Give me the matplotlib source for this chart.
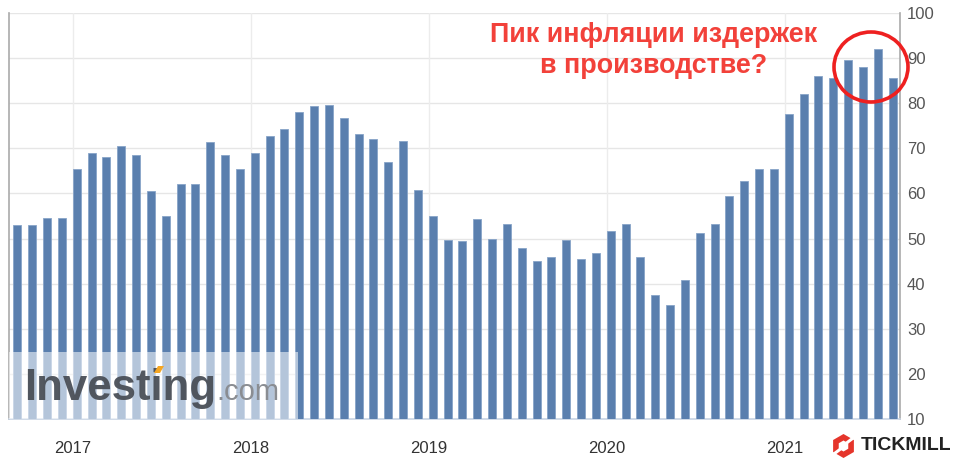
import matplotlib
matplotlib.use("Agg")
import matplotlib.pyplot as plt
from matplotlib.patches import Ellipse, Rectangle, Polygon
from matplotlib.lines import Line2D
import numpy as np

# Data: ISM-style prices index, monthly (by release month, Sep 2016 .. Aug 2021)
values = [53.0, 53.0, 54.5, 54.5, 65.5, 69.0, 68.0, 70.5, 68.5, 60.5, 55.0, 62.0,
          62.0, 71.5, 68.5, 65.5, 69.0, 72.7, 74.2, 78.1, 79.3, 79.5, 76.8, 73.2,
          72.1, 66.9, 71.6, 60.7, 54.9, 49.6, 49.4, 54.3, 50.0, 53.2, 47.9, 45.1,
          46.0, 49.7, 45.5, 46.7, 51.7, 53.3, 45.9, 37.4, 35.3, 40.8, 51.3, 53.2,
          59.5, 62.8, 65.5, 65.4, 77.6, 82.1, 86.0, 85.6, 89.6, 88.0, 92.1, 85.7]
year_labels = ["2017", "2018", "2019", "2020", "2021"]
year_index = [4, 16, 28, 40, 52]   # bar index of first release in each year
y_ticks = [10, 20, 30, 40, 50, 60, 70, 80, 90, 100]

W, H = 963, 462
fig = plt.figure(figsize=(W / 100, H / 100), dpi=100)
ax = fig.add_axes([9 / W, 1 - 419 / H, (900 - 9) / W, (419 - 13) / H])


def P(px, py):
    return (px / W, 1 - py / H)


x = np.arange(len(values))
ax.bar(x, [v - 10 for v in values], bottom=10, width=0.54,
       color="#5a7fae", edgecolor="#88a4c8", linewidth=0.6, zorder=3)

ax.set_xlim(-0.57, 59.5)
ax.set_ylim(10, 100)

# grid
for yt in y_ticks:
    ax.axhline(yt, color="#e6e6e6", lw=1.0, zorder=1)
xg = [i - 0.25 for i in year_index]
for xv in xg:
    ax.axvline(xv, color="#ececec", lw=1.0, zorder=1)

ax.yaxis.tick_right()
ax.set_yticks(y_ticks)
ax.set_yticklabels([str(t) for t in y_ticks], fontsize=12, color="#555555",
                   family="Liberation Sans")
ax.tick_params(axis="y", length=0, pad=5)
ax.set_xticks(xg)
ax.set_xticklabels(year_labels, fontsize=12, color="#333333", family="Liberation Sans")
ax.tick_params(axis="x", length=0, pad=16)

ax.spines["top"].set_visible(False)
ax.spines["left"].set_color("#aaaaaa")
ax.spines["right"].set_color("#aaaaaa")
ax.spines["bottom"].set_color("#c8d4e4")
for s in ["left", "right", "bottom"]:
    ax.spines[s].set_linewidth(1.2)

# Annotation
fig.text(654 / W, 1 - 35 / H, "Пик инфляции издержек", ha="center", va="center",
         fontsize=19.4, fontweight="bold", color="#f2413a", family="Liberation Sans")
fig.text(654 / W, 1 - 66 / H, "в производстве?", ha="center", va="center",
         fontsize=19.4, fontweight="bold", color="#f2413a", family="Liberation Sans")
fig.patches.append(Ellipse(P(871, 67), 74 / W, 70 / H, fill=False,
                           edgecolor="#ee2020", lw=2.6, transform=fig.transFigure,
                           zorder=10))

# Investing.com watermark
fig.patches.append(Rectangle(P(9, 419), (298 - 9) / W, (419 - 352) / H,
                             facecolor="white", alpha=0.55, edgecolor="none",
                             transform=fig.transFigure, zorder=10))
fig.text(24 / W, 1 - 400 / H, "Investing", ha="left", va="baseline", fontsize=31.5,
         fontweight="bold", color="#4a4f57", family="Liberation Sans", zorder=11,
         alpha=0.95)
fig.text(216 / W, 1 - 400 / H, ".com", ha="left", va="baseline", fontsize=21,
         color="#8a8d92", family="Liberation Sans", zorder=11)
fig.patches.append(Polygon([P(154, 373), P(158, 366), P(164, 366), P(160, 373)],
                           closed=True, facecolor="#f5a623", edgecolor="none",
                           transform=fig.transFigure, zorder=12))

# Tickmill logo (pointy-top hexagon ring with two diagonal cuts)
cx, cy = 843.5, 446
ang = np.deg2rad(90 + 60 * np.arange(6))
outer = [P(cx + 12 * np.cos(a), cy - 12 * np.sin(a)) for a in ang]
inner = [P(cx + 5.5 * np.cos(a), cy - 5.5 * np.sin(a)) for a in ang]
fig.patches.append(Polygon(outer, closed=True, facecolor="#e5352b", edgecolor="none",
                           transform=fig.transFigure, zorder=10))
fig.patches.append(Polygon(inner, closed=True, facecolor="white", edgecolor="none",
                           transform=fig.transFigure, zorder=11))
for (x0, y0, x1, y1) in [(cx + 3, cy - 3, cx + 11, cy - 9), (cx - 3, cy + 3, cx - 11, cy + 9)]:
    fig.lines.append(Line2D([x0 / W, x1 / W], [1 - y0 / H, 1 - y1 / H], color="white",
                            lw=2.2, transform=fig.transFigure, zorder=12))
fig.text(861 / W, 1 - 446 / H, "TICKMILL", ha="left", va="center", fontsize=14,
         fontweight="bold", color="#222222", family="Liberation Sans")

fig.savefig("out.png", dpi=100)
